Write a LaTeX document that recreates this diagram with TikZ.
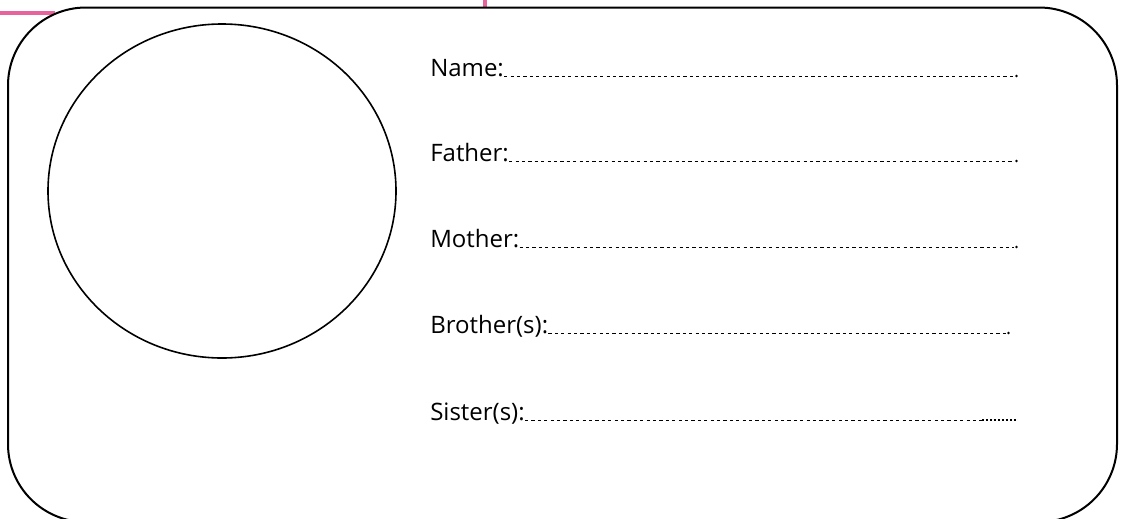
\documentclass[tikz,border=0pt]{standalone}
\usepackage{fontspec}
\setmainfont{Open Sans}
\definecolor{tabpink}{HTML}{E8629C}
\tikzset{
  fieldlabel/.style={anchor=base west,inner sep=0pt,font=\fontsize{18}{22}\selectfont},
  fieldline/.style={line width=0.7pt,dash pattern=on 2.4pt off 2.4pt},
  fielddot/.style={fill=black},
}
\begin{document}
\begin{tikzpicture}[x=0.75pt,y=-0.75pt]
    \useasboundingbox (0,0) rectangle (1121,518);
    \draw[tabpink,line width=2.8pt] (0,13) -- (55,13);
    \draw[tabpink,line width=2.8pt] (485,0) -- (485,7);
    \draw[line width=1.5pt,rounded corners=58.5pt] (8,7.5) rectangle (1117,522);
    \draw[line width=1.2pt] (222,191) ellipse [x radius=174,y radius=167];
    \node[fieldlabel] (name) at (430,76) {Name:};
    \node[fieldlabel] (father) at (430,161) {Father:};
    \node[fieldlabel] (mother) at (430,247) {Mother:};
    \node[fieldlabel] (brother) at (430,333) {Brother(s):};
    \node[fieldlabel] (sister) at (430,420) {Sister(s):};
    \coordinate (nameend) at (1014,76);
    \coordinate (fatherend) at (1014,161);
    \coordinate (motherend) at (1014,247);
    \coordinate (brotherend) at (1006,333);
    \coordinate (sisterend) at (982,420);
    \coordinate (sistertail) at (1016,420);
    \draw[fieldline] (name.base east) -- (nameend);
    \draw[fieldline] (father.base east) -- (fatherend);
    \draw[fieldline] (mother.base east) -- (motherend);
    \draw[fieldline] (brother.base east) -- (brotherend);
    \draw[fieldline] (sister.base east) -- (sisterend);
    \draw[line width=1pt,dash pattern=on 1.8pt off 1.2pt] (sisterend) -- (sistertail);
    \fill[fielddot] (nameend) ++(2.5,0) circle (1.3);
    \fill[fielddot] (fatherend) ++(2.5,0) circle (1.3);
    \fill[fielddot] (motherend) ++(2.5,0) circle (1.3);
    \fill[fielddot] (brotherend) ++(2.5,0) circle (1.3);
\end{tikzpicture}
\end{document}
